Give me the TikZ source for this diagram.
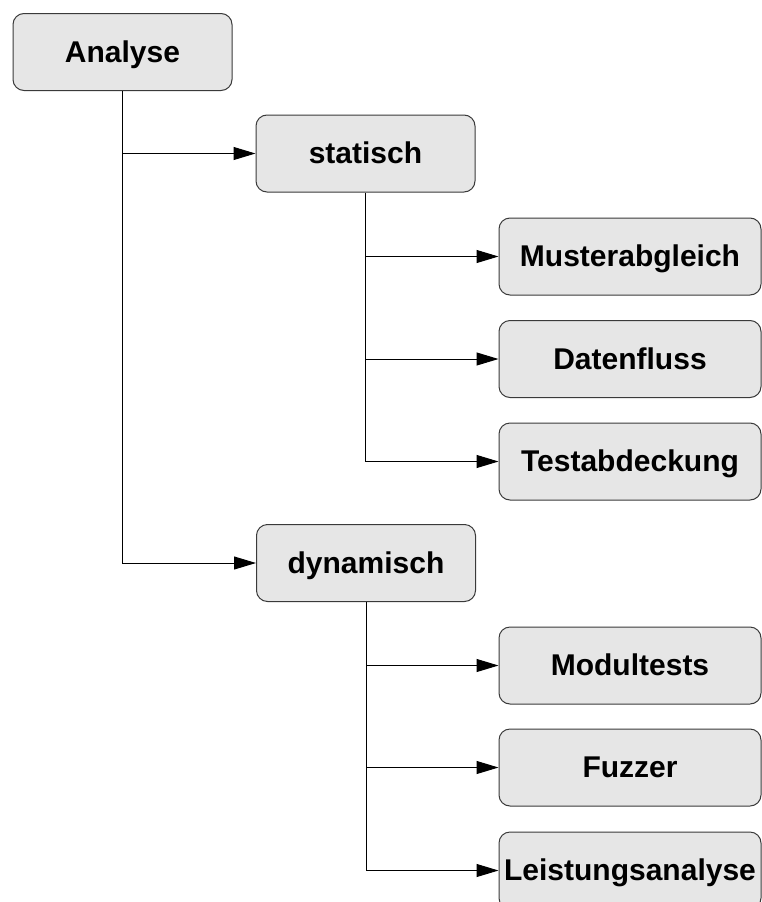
\documentclass[tikz,border=0pt]{standalone}
\usepackage{fontspec}
\setmainfont{Liberation Sans}
\usetikzlibrary{arrows.meta}
\definecolor{boxfill}{HTML}{E6E6E6}
\definecolor{boxline}{HTML}{3A3A3A}
\begin{document}
\begin{tikzpicture}[x=1pt,y=-1pt,
  box/.style={draw=boxline, line width=1pt, fill=boxfill, rounded corners=11pt,
    minimum height=77pt, inner sep=0pt, text height=20pt, text depth=0pt,
    font=\fontsize{30}{34}\selectfont\bfseries},
  toplevel/.style={box, minimum width=219pt},
  leaf/.style={box, minimum width=262pt},
  link/.style={line width=1pt, draw=black},
  arr/.style={link, -{Triangle[length=22pt,width=13pt]}}]
\useasboundingbox (0,0) rectangle (762,902);
\clip (0,0) rectangle (762,902);
% tree nodes
\node[toplevel] (ana) at (122.5,52) {Analyse};
\node[toplevel] (sta) at (365.5,153.5) {statisch};
\node[toplevel] (dyn) at (366,563) {dynamisch};
\node[leaf] (mus) at (630,256.5) {Musterabgleich};
\node[leaf] (dat) at (630,359) {Datenfluss};
\node[leaf] (tes) at (630,461.5) {Testabdeckung};
\node[leaf] (mod) at (630,665.5) {Modultests};
\node[leaf] (fuz) at (630,767.5) {Fuzzer};
\node[leaf] (lei) at (630,870.5) {Leistungsanalyse};
% connectors: Analyse
\draw[arr] (ana.south) |- (dyn.west);
\draw[arr] (ana.south |- sta.west) -- (sta.west);
% connectors: statisch
\draw[arr] (sta.south) |- (tes.west);
\draw[arr] (sta.south |- mus.west) -- (mus.west);
\draw[arr] (sta.south |- dat.west) -- (dat.west);
% connectors: dynamisch
\draw[arr] (dyn.south) |- (lei.west);
\draw[arr] (dyn.south |- mod.west) -- (mod.west);
\draw[arr] (dyn.south |- fuz.west) -- (fuz.west);
\end{tikzpicture}
\end{document}
